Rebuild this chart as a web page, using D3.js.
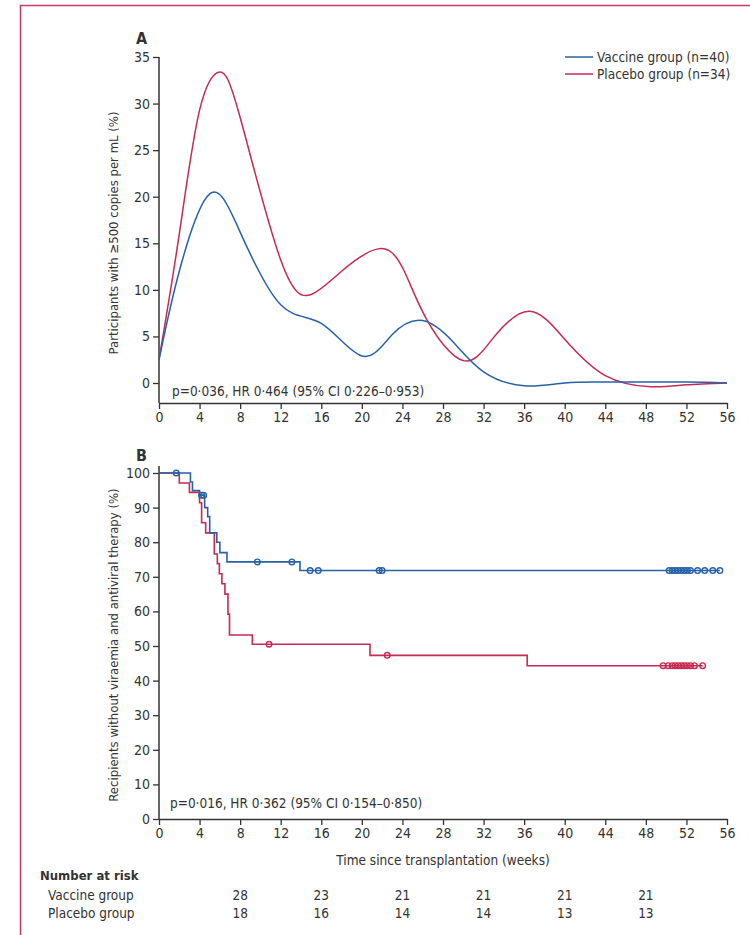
<!DOCTYPE html>
<html>
<head>
<meta charset="utf-8">
<script src="https://cdn.jsdelivr.net/npm/d3@7"></script>
<style>
body { margin:0; background:#fff; }
svg text { font-family:"Liberation Sans Narrow","DejaVu Sans Condensed","Roboto Condensed",sans-serif; fill:#333; }
</style>
</head>
<body>
<svg id="chart"></svg>
<script>
var width = 750,
    height = 935

var blue = "#2762a8",
    red = "#c72a52"

// panel A: smoothed viraemia curves
var vacWeeks = [0, 2, 5, 8, 12, 16, 20, 23, 26, 29, 32, 36, 40, 44, 48, 52, 56]
var vacPct = [2.5, 12, 20.3, 16.2, 8.4, 6.4, 2.9, 5.2, 6.7, 4.4, 1.2, -0.3, 0, 0.1, 0.1, 0.1, 0]
var plaWeeks = [0, 2, 4, 6, 8, 12, 15, 18, 21.6, 24, 26.4, 30, 33, 36.5, 40, 44, 48.5, 52, 56]
var plaPct = [2.5, 16, 29.3, 33.4, 28.5, 13.2, 9.5, 12, 14.4, 12.4, 6.8, 2.4, 4.9, 7.7, 4.7, 0.8, -0.4, -0.2, 0]

// panel B: Kaplan-Meier steps (week of drop, value after drop)
var vacStepWeeks = [0, 3.1, 3.3, 4.0, 4.5, 4.8, 5.0, 5.7, 6.0, 6.7, 13.9]
var vacStepPct = [100, 97.4, 94.9, 93.6, 90, 87.4, 82.7, 80, 77, 74.3, 71.8]
var vacCensor = [1.7, 4.2, 4.4, 9.7, 13.1, 14.9, 15.7, 21.7, 22, 50.3, 50.6, 50.9, 51.2, 51.5, 51.8, 52.1, 52.4, 53.1, 53.8, 54.6, 55.3]
var plaStepWeeks = [0, 2.0, 3.0, 4.0, 4.2, 4.6, 5.45, 5.75, 5.95, 6.2, 6.5, 6.8, 6.95, 9.2, 20.8, 36.3]
var plaStepPct = [100, 97.1, 94.4, 91.4, 85.6, 82.7, 76.6, 73.8, 70.9, 68, 65, 59.2, 53.2, 50.5, 47.3, 44.3]
var plaCensor = [10.85, 22.5, 49.7, 50.2, 50.6, 50.9, 51.2, 51.5, 51.8, 52.1, 52.4, 52.8, 53.6]

var weekTicks = d3.range(0, 57, 4)
var riskWeeks = [8, 16, 24, 32, 40, 48]
var riskVaccine = [28, 23, 21, 21, 21, 21]
var riskPlacebo = [18, 16, 14, 14, 13, 13]

var svg = d3.select("svg#chart")
    .attr("width", width)
    .attr("height", height)

svg.append("rect")
    .attr("x", 20.5)
    .attr("y", 5.5)
    .attr("width", 760)
    .attr("height", 960)
    .attr("fill", "none")
    .attr("stroke", "#c83a60")
    .attr("stroke-width", 1.5)

var x = d3.scaleLinear().domain([0, 56]).range([159, 727])
var yA = d3.scaleLinear().domain([0, 35]).range([383, 57])
var yB = d3.scaleLinear().domain([0, 100]).range([819, 473])

function styleAxis(g) {
    g.selectAll("path.domain").attr("stroke", "#333").attr("stroke-width", 1.5)
    g.selectAll(".tick line").attr("stroke", "#333").attr("stroke-width", 1.3)
    g.selectAll(".tick text").attr("font-size", 14).attr("fill", "#3a3a4a")
        .style("font-family", "'Liberation Sans Narrow','DejaVu Sans Condensed',sans-serif")
}

// ---- panel A
svg.append("g")
    .attr("transform", "translate(0,403)")
    .call(d3.axisBottom(x).tickValues(weekTicks).tickSize(6).tickSizeOuter(0))
    .call(styleAxis)

var gyA = svg.append("g")
    .attr("transform", "translate(159,0)")
    .call(d3.axisLeft(yA).tickValues(d3.range(0, 36, 5)).tickSize(6).tickSizeOuter(0))
    .call(styleAxis)
gyA.select("path.domain").attr("d", "M0," + yA(35) + "V403")

var lineA = d3.line()
    .x(function(d){ return x(d[0]) })
    .y(function(d){ return yA(d[1]) })
    .curve(d3.curveNatural)

svg.append("path")
    .datum(d3.zip(plaWeeks, plaPct))
    .attr("d", lineA)
    .attr("fill", "none")
    .attr("stroke", red)
    .attr("stroke-width", 1.5)

svg.append("path")
    .datum(d3.zip(vacWeeks, vacPct))
    .attr("d", lineA)
    .attr("fill", "none")
    .attr("stroke", blue)
    .attr("stroke-width", 1.5)

svg.append("text").attr("x", 136).attr("y", 44)
    .attr("font-size", 16).attr("font-weight", "bold").attr("fill", "#222").text("A")

svg.append("text")
    .attr("transform", "translate(118,233) rotate(-90)")
    .attr("text-anchor", "middle")
    .attr("font-size", 13)
    .text("Participants with \u2265500 copies per mL (%)")

svg.append("text").attr("x", 172).attr("y", 396)
    .attr("font-size", 13.5)
    .text("p=0\u00b7036, HR 0\u00b7464 (95% CI 0\u00b7226\u20130\u00b7953)")

var legend = svg.selectAll("g.legend")
    .data([["Vaccine group (n=40)", blue], ["Placebo group (n=34)", red]])
    .enter()
    .append("g")
    .attr("class", "legend")
    .attr("transform", function(d, i){
        return "translate(565," + (57 + i * 17) + ")"
    })

legend.append("line")
    .attr("x1", 0).attr("x2", 28)
    .attr("stroke", function(d){ return d[1] })
    .attr("stroke-width", 1.5)

legend.append("text")
    .attr("x", 32).attr("y", 5)
    .attr("font-size", 13.5)
    .text(function(d){ return d[0] })

// ---- panel B
svg.append("g")
    .attr("transform", "translate(0,819)")
    .call(d3.axisBottom(x).tickValues(weekTicks).tickSize(6).tickSizeOuter(0))
    .call(styleAxis)

var gyB = svg.append("g")
    .attr("transform", "translate(159,0)")
    .call(d3.axisLeft(yB).tickValues(d3.range(0, 101, 10)).tickSize(6).tickSizeOuter(0))
    .call(styleAxis)
gyB.select("path.domain").attr("d", "M0,466V819")

var stepLine = d3.line()
    .x(function(d){ return x(d[0]) })
    .y(function(d){ return yB(d[1]) })
    .curve(d3.curveStepAfter)

function drawKM(weeks, pct, censor, color) {
    var pts = d3.zip(weeks, pct)
    var last = d3.max(censor)
    pts.push([last, pct[pct.length - 1]])
    svg.append("path")
        .datum(pts)
        .attr("d", stepLine)
        .attr("fill", "none")
        .attr("stroke", color)
        .attr("stroke-width", 1.6)

    svg.selectAll(null)
        .data(censor)
        .enter()
        .append("circle")
        .attr("cx", function(d){ return x(d) })
        .attr("cy", function(d){
            var i = d3.bisectRight(weeks, d) - 1
            return yB(pct[i])
        })
        .attr("r", 2.8)
        .attr("fill", "none")
        .attr("stroke", color)
        .attr("stroke-width", 1.4)
}

drawKM(plaStepWeeks, plaStepPct, plaCensor, red)
drawKM(vacStepWeeks, vacStepPct, vacCensor, blue)

svg.append("text").attr("x", 136).attr("y", 461)
    .attr("font-size", 16).attr("font-weight", "bold").attr("fill", "#222").text("B")

svg.append("text")
    .attr("transform", "translate(118,645) rotate(-90)")
    .attr("text-anchor", "middle")
    .attr("font-size", 13)
    .text("Recipients without viraemia and antiviral therapy (%)")

svg.append("text").attr("x", 170).attr("y", 808)
    .attr("font-size", 13.5)
    .text("p=0\u00b7016, HR 0\u00b7362 (95% CI 0\u00b7154\u20130\u00b7850)")

svg.append("text").attr("x", x(28)).attr("y", 865)
    .attr("text-anchor", "middle")
    .attr("font-size", 13.5)
    .text("Time since transplantation (weeks)")

// number at risk
svg.append("text").attr("x", 40).attr("y", 880)
    .attr("font-size", 13).attr("font-weight", "bold").attr("fill", "#222")
    .text("Number at risk")

var rows = [["Vaccine group", riskVaccine], ["Placebo group", riskPlacebo]]
rows.forEach(function(r, i){
    var yy = 900 + i * 18
    svg.append("text").attr("x", 48).attr("y", yy)
        .attr("font-size", 13.5).text(r[0])
    svg.selectAll(null)
        .data(r[1])
        .enter()
        .append("text")
        .attr("x", function(d, j){ return x(riskWeeks[j]) })
        .attr("y", yy)
        .attr("text-anchor", "middle")
        .attr("font-size", 13.5)
        .text(function(d){ return d })
})
</script>
</body>
</html>
